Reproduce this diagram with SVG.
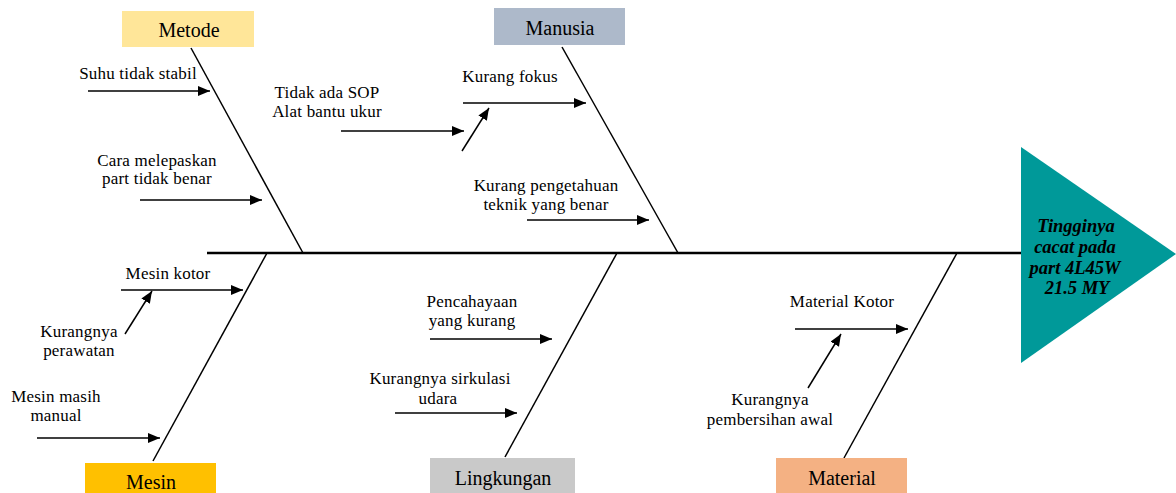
<svg xmlns="http://www.w3.org/2000/svg" width="1176" height="493" viewBox="0 0 1176 493">
<style>
.lbl{font-family:"Liberation Serif","Times New Roman",serif;font-size:17px;letter-spacing:0.2px;fill:#000;text-anchor:middle}
.cat{font-family:"Liberation Serif","Times New Roman",serif;font-size:20px;fill:#000;text-anchor:middle}
.eff{font-family:"Liberation Serif","Times New Roman",serif;font-size:18.5px;font-weight:bold;font-style:italic;fill:#000;text-anchor:middle}
.bone{stroke:#000;stroke-width:1.5;fill:none}
.arr{stroke:#000;stroke-width:1.5;fill:none;marker-end:url(#ah)}
</style>
<defs>
<marker id="ah" markerUnits="userSpaceOnUse" markerWidth="13" markerHeight="11" refX="12" refY="5" orient="auto">
<path d="M0,0 L12,5 L0,10 z" fill="#000"/>
</marker>
</defs>
<rect width="1176" height="493" fill="#fff"/>

<g id="connectors">
<line x1="207" y1="253" x2="1022" y2="253" stroke="#000" stroke-width="2.5"/>
<line class="bone" x1="191" y1="48" x2="303" y2="253"/>
<line class="bone" x1="562" y1="47" x2="678" y2="253"/>
<line class="bone" x1="267" y1="253" x2="153" y2="461"/>
<line class="bone" x1="617" y1="253" x2="505" y2="457"/>
<line class="bone" x1="957" y1="253" x2="844" y2="458"/>
<line class="arr" x1="88" y1="91" x2="210" y2="91"/>
<line class="arr" x1="140" y1="200" x2="262" y2="200"/>
<line class="arr" x1="341" y1="131" x2="464" y2="131"/>
<line class="arr" x1="462" y1="151" x2="489" y2="108"/>
<line class="arr" x1="463" y1="103" x2="586" y2="103"/>
<line class="arr" x1="527" y1="220" x2="649" y2="220"/>
<line class="arr" x1="121" y1="290" x2="243" y2="290"/>
<line class="arr" x1="125" y1="334" x2="152" y2="291"/>
<line class="arr" x1="37" y1="438" x2="160" y2="438"/>
<line class="arr" x1="430" y1="339" x2="552" y2="339"/>
<line class="arr" x1="395" y1="413" x2="517" y2="413"/>
<line class="arr" x1="795" y1="329" x2="908" y2="329"/>
<line class="arr" x1="808" y1="388" x2="841" y2="334"/>
</g>

<g id="effect">
<polygon points="1021,147 1176,254 1021,363" fill="#009999"/>
<text class="eff" x="1076" y="232">Tingginya</text>
<text class="eff" x="1075" y="253">cacat pada</text>
<text class="eff" x="1075" y="274">part 4L45W</text>
<text class="eff" x="1077" y="294">21.5 MY</text>
</g>

<g id="metode">
<rect x="122" y="11" width="132" height="36" fill="#FFE699"/>
<text class="cat" x="189" y="37">Metode</text>
</g>
<g id="manusia">
<rect x="494" y="8" width="131" height="37" fill="#ADB9CA"/>
<text class="cat" x="560" y="35">Manusia</text>
</g>
<g id="mesin">
<rect x="85" y="463" width="131" height="30" fill="#FFC000"/>
<text class="cat" x="151" y="489">Mesin</text>
</g>
<g id="lingkungan">
<rect x="430" y="458" width="145" height="35" fill="#C9C9C9"/>
<text class="cat" x="503" y="485">Lingkungan</text>
</g>
<g id="material">
<rect x="776" y="458" width="131" height="35" fill="#F4B183"/>
<text class="cat" x="842" y="485">Material</text>
</g>

<g id="cause-suhu"><text class="lbl" x="138" y="79">Suhu tidak stabil</text></g>
<g id="cause-cara"><text class="lbl" x="157" y="166">Cara melepaskan</text><text class="lbl" x="157" y="184">part tidak benar</text></g>
<g id="cause-sop"><text class="lbl" x="327" y="98">Tidak ada SOP</text><text class="lbl" x="327" y="117">Alat bantu ukur</text></g>
<g id="cause-fokus"><text class="lbl" x="510" y="82">Kurang fokus</text></g>
<g id="cause-pengetahuan"><text class="lbl" x="546" y="191">Kurang pengetahuan</text><text class="lbl" x="546" y="210">teknik yang benar</text></g>
<g id="cause-mesinkotor"><text class="lbl" x="168" y="279">Mesin kotor</text></g>
<g id="cause-perawatan"><text class="lbl" x="79" y="337">Kurangnya</text><text class="lbl" x="79" y="356">perawatan</text></g>
<g id="cause-manual"><text class="lbl" x="56" y="402">Mesin masih</text><text class="lbl" x="56" y="421">manual</text></g>
<g id="cause-cahaya"><text class="lbl" x="472" y="307">Pencahayaan</text><text class="lbl" x="472" y="326">yang kurang</text></g>
<g id="cause-sirkulasi"><text class="lbl" x="440" y="384">Kurangnya sirkulasi</text><text class="lbl" x="438" y="404">udara</text></g>
<g id="cause-materialkotor"><text class="lbl" x="842" y="307">Material Kotor</text></g>
<g id="cause-pembersihan"><text class="lbl" x="770" y="405">Kurangnya</text><text class="lbl" x="770" y="425">pembersihan awal</text></g>
</svg>
